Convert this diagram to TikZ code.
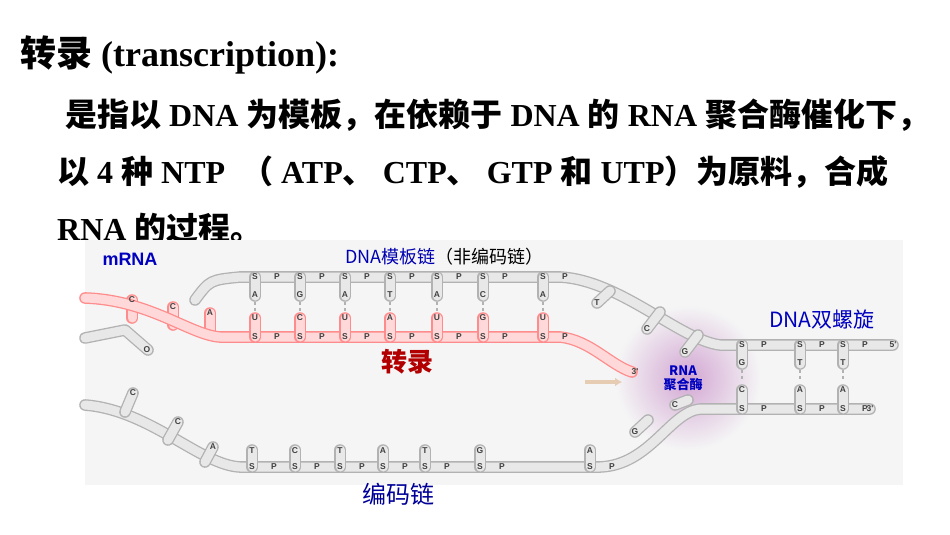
\documentclass[tikz,border=0pt]{standalone}
\usepackage{fontspec}
\usetikzlibrary{arrows.meta}
\setmainfont{Liberation Serif}
\newfontfamily\cjk{Noto Sans CJK SC}
\newfontfamily\lab{Liberation Sans}
\begin{document}
\begin{tikzpicture}[x=1pt,y=-1pt,
  bb/.style={line width=1.3pt,draw=gray!60,double=gray!18,double distance=9pt,line cap=round,line join=round},
  rb/.style={line width=1.3pt,draw=red!45,double=red!15,double distance=9pt,line cap=round,line join=round},
  rung/.style={gray!60,line width=1.2pt,dashed},
  ch/.style={font=\lab\bfseries\fontsize{8.5}{8.5}\selectfont,text=black!75,inner sep=0pt},
  title/.style={anchor=west,inner sep=0pt,font=\bfseries\fontsize{32}{36}\selectfont},
  blue/.style={text=blue!75!black,font=\lab\bfseries\fontsize{18}{18}\selectfont,inner sep=0pt}]
\useasboundingbox (0,0) rectangle (950,535);
\fill[white] (0,0) rectangle (950,535);
% texts
\node[title,font=\bfseries\fontsize{36}{40}\selectfont] (t0) at (20,55) {{\cjk 转录} (transcription):};
\node[title] (t1) at (65,115) {{\cjk 是指以} DNA {\cjk 为模板，在依赖于} DNA {\cjk 的} RNA {\cjk 聚合酶催化下，}};
\node[title] (t2) at (57,172) {{\cjk 以} 4 {\cjk 种} NTP \ {\cjk （} ATP{\cjk 、} CTP{\cjk 、} GTP {\cjk 和} UTP{\cjk ）为原料，合成}};
\node[title] (t3) at (57,228) {RNA {\cjk 的过程。}};
% picture panel
\fill[blue!3!gray!8] (85,240) rectangle (903,485);
% polymerase
\shade[inner color=violet!35,outer color=blue!3!gray!8] (688,378) circle (72);
% strands
\draw[bb] (85,338)--(125,330)--(148,350);
\foreach \x/\y/\b in {132/300/C,173/307/C,210/313/A}{\draw[rb] (\x,\y+18)--(\x,\y);}
\draw[rb] (85,298) .. controls (150,300) and (190,335) .. (220,337) -- (560,337) .. controls (590,340) and (610,365) .. (632,372);
\draw[bb] (195,300) .. controls (210,280) .. (240,277) -- (560,277) .. controls (620,280) and (680,340) .. (720,345) -- (893,345);
\draw[bb] (85,405) .. controls (150,410) and (200,465) .. (240,467) -- (600,467) .. controls (650,465) and (670,412) .. (700,409) -- (870,409);
\foreach \x/\a/\b in {255/A/U,300/G/C,345/A/U,390/T/A,437/A/U,483/C/G,543/A/U}{
  \draw[bb] (\x,277)--(\x,296);
  \draw[rung] (\x,302)--(\x,312);
  \draw[rb] (\x,337)--(\x,318);
  \node[ch] (a\x) at (\x,295) {\a};
  \node[ch] (b\x) at (\x,318) {\b};
  \node[ch] (s\x) at (\x,277) {S};
  \node[ch] (q\x) at (\x,337) {S};
  \node[ch] (p\x) at (\x+22,277) {P};
  \node[ch] (r\x) at (\x+22,337) {P};}
\foreach \x/\y/\b/\sx/\sy in {597/303/T/610/291,647/329/C/660/312,685/352/G/698/335}{
  \draw[bb] (\sx,\sy)--(\x,\y);
  \node[ch] at (\x,\y) {\b};}
\foreach \x/\y/\b/\sx/\sy in {132/300/C/130/318,173/307/C/170/325,210/313/A/212/331}{
  \node[ch] at (\x,\y) {\b};}
\foreach \x/\a/\b in {742/G/C,800/T/A,843/T/A}{
  \draw[bb] (\x,345)--(\x,364);
  \draw[rung] (\x,370)--(\x,382);
  \draw[bb] (\x,409)--(\x,390);
  \node[ch] at (\x,363) {\a};
  \node[ch] at (\x,390) {\b};
  \node[ch] at (\x,345) {S};
  \node[ch] at (\x,409) {S};
  \node[ch] at (\x+22,345) {P};
  \node[ch] at (\x+22,409) {P};}
\node[ch] at (893,345) {5'};
\node[ch] at (870,409) {3'};
\node[ch] at (635,372) {3'};
\foreach \x/\b in {252/T,295/C,340/T,383/A,425/T,480/G,590/A}{
  \draw[bb] (\x,467)--(\x,450);
  \node[ch] at (\x,451) {\b};
  \node[ch] at (\x,467) {S};
  \node[ch] at (\x+22,467) {P};}
\foreach \x/\y/\b/\sx/\sy in {133/393/C/125/412,178/422/C/168/440,213/447/A/205/462,635/432/G/648/420,675/405/C/688/400}{
  \draw[bb] (\sx,\sy)--(\x,\y);
  \node[ch] at (\x,\y) {\b};}
\node[ch] at (147,350) {O};
% arrow
\draw[line width=4pt,brown!40,-{Latex[length=7pt,width=9pt]}] (585,382)--(622,382);
% labels
\node[blue] (m) at (130,259) {mRNA};
\node[inner sep=0pt,anchor=west] (dt) at (345,257) {\cjk\fontsize{18}{18}\selectfont\textcolor{blue!70!black}{DNA模板链}（非编码链）};
\node[text=red!70!black,font=\cjk\bfseries\fontsize{26}{26}\selectfont] (zl) at (407,362) {转录};
\node[blue,font=\cjk\bfseries\fontsize{13}{14}\selectfont,align=center] (pol) at (683,378) {RNA\\聚合酶};
\node[blue,font=\cjk\fontsize{21}{21}\selectfont] (dh) at (822,320) {DNA双螺旋};
\node[text=blue!60!black,font=\cjk\fontsize{24}{24}\selectfont] (bm) at (398,494) {编码链};
\end{tikzpicture}
\end{document}
